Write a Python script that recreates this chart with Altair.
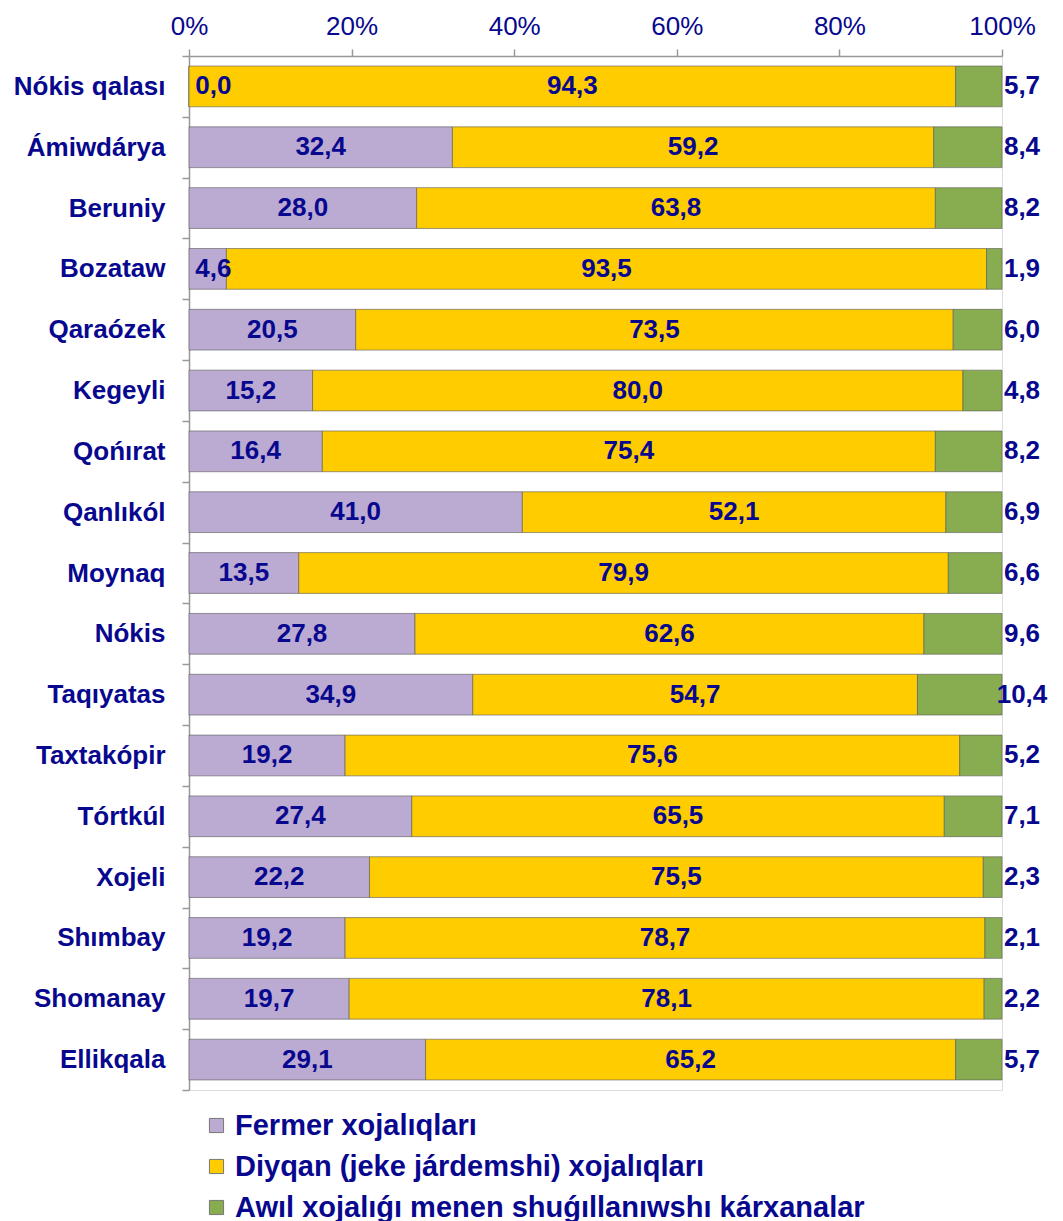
import altair as alt
import pandas as pd

regions = ["Nókis qalası", "Ámiwdárya", "Beruniy", "Bozataw", "Qaraózek", "Kegeyli",
           "Qońırat", "Qanlıkól", "Moynaq", "Nókis", "Taqıyatas", "Taxtakópir",
           "Tórtkúl", "Xojeli", "Shımbay", "Shomanay", "Ellikqala"]
fermer = [0.0, 32.4, 28.0, 4.6, 20.5, 15.2, 16.4, 41.0, 13.5, 27.8, 34.9, 19.2, 27.4, 22.2, 19.2, 19.7, 29.1]
diyqan = [94.3, 59.2, 63.8, 93.5, 73.5, 80.0, 75.4, 52.1, 79.9, 62.6, 54.7, 75.6, 65.5, 75.5, 78.7, 78.1, 65.2]
awil = [5.7, 8.4, 8.2, 1.9, 6.0, 4.8, 8.2, 6.9, 6.6, 9.6, 10.4, 5.2, 7.1, 2.3, 2.1, 2.2, 5.7]
series = ["Fermer xojalıqları", "Diyqan (jeke járdemshi) xojalıqları",
          "Awıl xojalıǵı menen shuǵıllanıwshı kárxanalar"]
colors = ["#BBAAD2", "#FFCC00", "#88AD50"]

rows = []
for i, r in enumerate(regions):
    for k, (s, v) in enumerate(zip(series, [fermer[i], diyqan[i], awil[i]])):
        rows.append({"region": r, "series": s, "value": v, "k": k})
df = pd.DataFrame(rows)

TXT = "#08088F"
FONT = "Liberation Sans"

y_enc = alt.Y("region:N", sort=regions, title=None,
              scale=alt.Scale(paddingInner=0, paddingOuter=0),
              axis=alt.Axis(labelFont=FONT, labelFontSize=26, labelFontWeight="bold",
                            labelColor=TXT, domainColor="#999999", tickColor="#999999",
                            tickBand="extent", tickSize=7, labelPadding=17,
                            minExtent=176, maxExtent=176, domainWidth=1.5, tickWidth=1.5))

base = alt.Chart(df).transform_stack(
    stack="value", groupby=["region"], as_=["x0", "x1"], offset="normalize",
    sort=[alt.SortField("k", order="ascending")]
).transform_calculate(
    mid="(datum.x0 + datum.x1) / 2",
    lab="replace(format(datum.value, '.1f'), '.', ',')"
)

bars = base.mark_bar(stroke="#5a5a5a", strokeWidth=1, strokeOpacity=0.6,
                     height=alt.RelativeBandSize(0.67)).encode(
    x=alt.X("x0:Q", title=None, scale=alt.Scale(domain=[0, 1], nice=False),
            axis=alt.Axis(orient="top", format="%", values=[0, 0.2, 0.4, 0.6, 0.8, 1.0],
                          labelFont=FONT, labelFontSize=26, labelColor=TXT,
                          domainColor="#999999", tickColor="#999999", tickSize=7,
                          labelPadding=10, grid=False, minExtent=43, maxExtent=43,
                          domainWidth=1.5, tickWidth=1.5, labelFlush=False)),
    x2="x1:Q",
    y=y_enc,
    color=alt.Color("series:N", sort=series,
                    scale=alt.Scale(domain=series, range=colors),
                    legend=alt.Legend(title=None, orient="none", legendX=13, legendY=1055,
                                      direction="vertical", symbolType="square",
                                      symbolSize=200, symbolStrokeColor="#777777",
                                      symbolStrokeWidth=1,
                                      labelFont=FONT, labelFontSize=29, labelFontWeight="bold",
                                      labelColor=TXT, rowPadding=11, labelLimit=900,
                                      labelOffset=4)),
    order=alt.Order("k:Q"),
)

text_mid = base.transform_filter("datum.k < 2").transform_calculate(
    tx="datum.k == 0 ? max(datum.mid, 0.03) : datum.mid"
).mark_text(font=FONT, fontSize=26, fontWeight="bold", color=TXT).encode(
    x="tx:Q", y=alt.Y("region:N", sort=regions), text="lab:N")

text_end = base.transform_filter("datum.k == 2").mark_text(
    font=FONT, fontSize=26, fontWeight="bold", color=TXT, dx=20).encode(
    x=alt.datum(1), y=alt.Y("region:N", sort=regions), text="lab:N")

chart = alt.layer(bars, text_mid, text_end).properties(
    width=813, height=1034
).configure_view(stroke=None).configure(background="white")

chart.save("out.html", embed_options={"renderer": "svg", "actions": False})
